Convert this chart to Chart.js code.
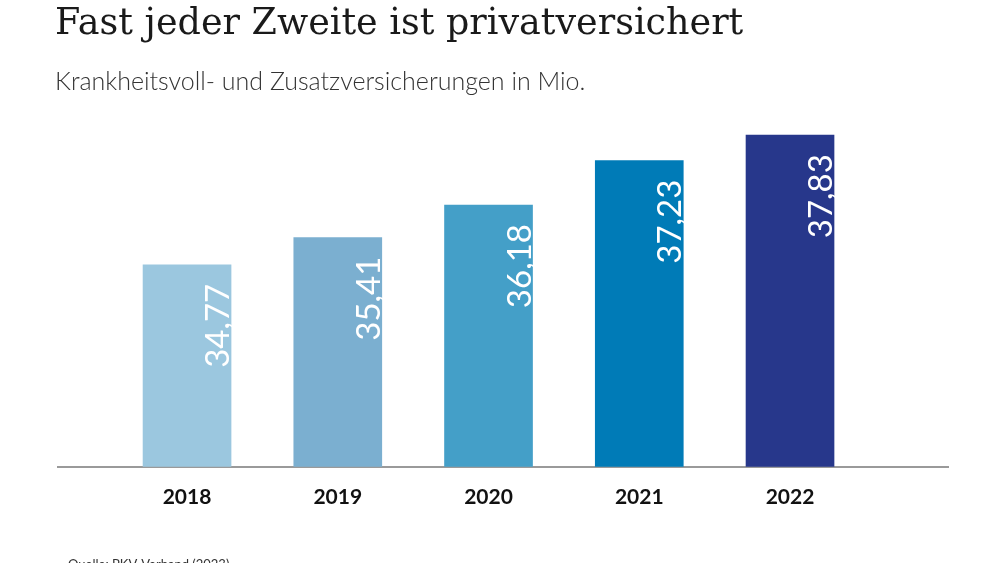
<!DOCTYPE html>
<html>
<head>
<meta charset="utf-8">
<script src="https://cdn.jsdelivr.net/npm/chart.js@4.4.1/dist/chart.umd.min.js"></script>
<style>
  html, body { margin: 0; padding: 0; background: #fff; width: 1000px; height: 563px; overflow: hidden; }
  #title { position: absolute; left: 55px; top: 0px; font-family: "DejaVu Serif", serif; font-size: 36.5px; color: #1a1a1a; white-space: nowrap; line-height: 44px; }
  #subtitle { position: absolute; left: 55px; top: 65px; font-family: Lato, sans-serif; font-weight: 300; font-size: 25px; color: #333; white-space: nowrap; line-height: 30px; }
  #source { position: absolute; left: 68px; top: 556px; font-family: Lato, sans-serif; font-size: 13px; color: #333; white-space: nowrap; }
  #wrap { position: absolute; left: 0; top: 0; width: 1000px; height: 563px; }
</style>
</head>
<body>
<div id="wrap"><canvas id="c"></canvas></div>
<div id="title">Fast jeder Zweite ist privatversichert</div>
<div id="subtitle">Krankheitsvoll- und Zusatzversicherungen in Mio.</div>
<div id="source">Quelle: PKV-Verband (2023)</div>
<script>
const categories = ["2018", "2019", "2020", "2021", "2022"];
const values = [34.77, 35.41, 36.18, 37.23, 37.83];
const valueLabels = ["34,77", "35,41", "36,18", "37,23", "37,83"];
const barColors = ["#9bc7df", "#7bafd0", "#449fc8", "#007bb7", "#27378b"];

const labelPlugin = {
  id: 'barLabels',
  afterDatasetsDraw(chart) {
    const ctx = chart.ctx;
    const meta = chart.getDatasetMeta(0);
    ctx.save();
    ctx.fillStyle = '#ffffff';
    ctx.font = '400 33px Lato, sans-serif';
    ctx.textAlign = 'right';
    ctx.textBaseline = 'alphabetic';
    meta.data.forEach((bar, i) => {
      const half = bar.width / 2;
      ctx.save();
      ctx.translate(bar.x + half - 2, bar.y + 19);
      ctx.rotate(-Math.PI / 2);
      ctx.fillText(valueLabels[i], 0, 0);
      ctx.restore();
    });
    ctx.restore();
  }
};

new Chart(document.getElementById('c'), {
  type: 'bar',
  data: {
    datasets: [{
      data: values.map((v, i) => ({ x: i, y: v })),
      backgroundColor: barColors,
      borderWidth: 0,
      barThickness: 88
    }]
  },
  options: {
    responsive: true,
    maintainAspectRatio: false,
    animation: false,
    layout: { padding: { left: 58, right: 52, top: 128, bottom: 43 } },
    plugins: { legend: { display: false }, tooltip: { enabled: false } },
    scales: {
      x: {
        type: 'linear',
        offset: false,
        min: -0.856,
        max: 5.048,
        afterBuildTicks(scale) { scale.ticks = categories.map((c, i) => ({ value: i })); },
        grid: { display: false },
        border: { display: true, color: '#9a9a9a', width: 2 },
        ticks: {
          padding: 10,
          color: '#111',
          font: { family: 'Lato, sans-serif', size: 21, weight: 'bold' },
          callback: (v) => categories[v] ?? ''
        }
      },
      y: {
        display: false,
        min: 30,
        max: 38
      }
    }
  },
  plugins: [labelPlugin]
});
</script>
</body>
</html>
